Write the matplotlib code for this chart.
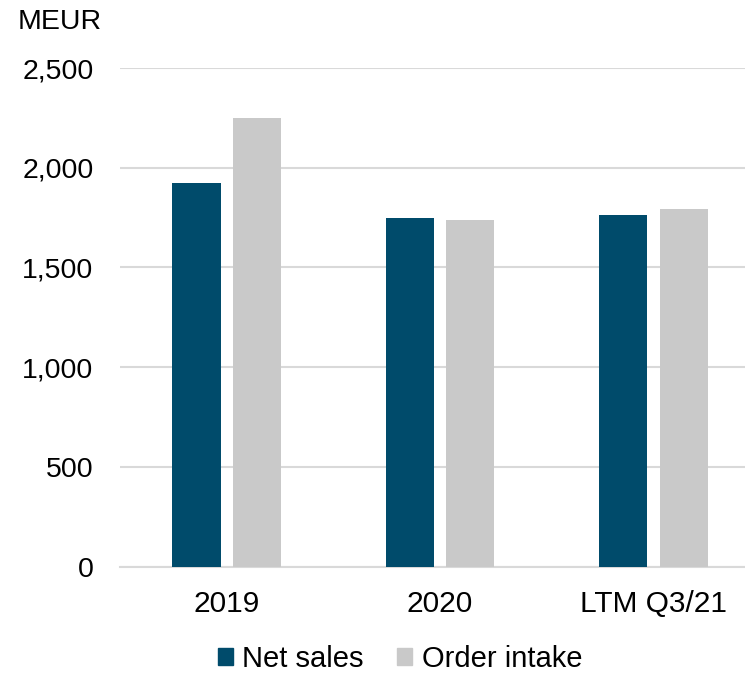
import matplotlib
matplotlib.use("Agg")
import matplotlib.pyplot as plt
from matplotlib.patches import Patch
import numpy as np

categories = ["2019", "2020", "LTM Q3/21"]
net_sales = [1923, 1747, 1762]
order_intake = [2247, 1737, 1792]
y_ticks = [0, 500, 1000, 1500, 2000, 2500]

plt.rcParams['font.family'] = ['Liberation Sans', 'DejaVu Sans']

blue = "#004b6b"
grey = "#c9c9c9"
grid = "#d9d9d9"

fig = plt.figure(figsize=(7.45, 6.73), dpi=100)
ax = fig.add_axes([120 / 745, 1 - 566.7 / 673, 1 - 120 / 745, (566.7 - 68) / 673])

x = np.arange(len(categories))
w = 0.226
ax.bar(x - 0.1415, net_sales, w, color=blue, zorder=3)
ax.bar(x + 0.1415, order_intake, w, color=grey, zorder=3)

ax.set_xlim(-0.5, 2.429)
ax.set_ylim(0, 2500)
ax.set_yticks(y_ticks)
ax.set_yticklabels([f"{v:,}" for v in y_ticks], fontsize=20.5)
ax.set_xticks(x)
ax.set_xticklabels(categories, fontsize=21.5)
ax.tick_params(axis="both", length=0)
ax.tick_params(axis="y", pad=19)
ax.tick_params(axis="x", pad=17)
ax.yaxis.grid(True, color=grid, linewidth=1.5, zorder=0)
for s in ["top", "right", "left"]:
    ax.spines[s].set_visible(False)
ax.spines["bottom"].set_color(grid)
ax.spines["bottom"].set_linewidth(1.5)

fig.text(18 / 745, 1 - 22 / 673, "MEUR", fontsize=20.5, va="center", ha="left")

handles = [Patch(color=blue, label="Net sales"), Patch(color=grey, label="Order intake")]
fig.legend(handles=handles, loc="center", bbox_to_anchor=(400 / 745, 1 - 659 / 673),
           ncol=2, frameon=False, fontsize=21, handlelength=0.52, handleheight=0.52,
           handletextpad=0.32, columnspacing=1.15, borderpad=0)

fig.savefig("out.png", dpi=100)
